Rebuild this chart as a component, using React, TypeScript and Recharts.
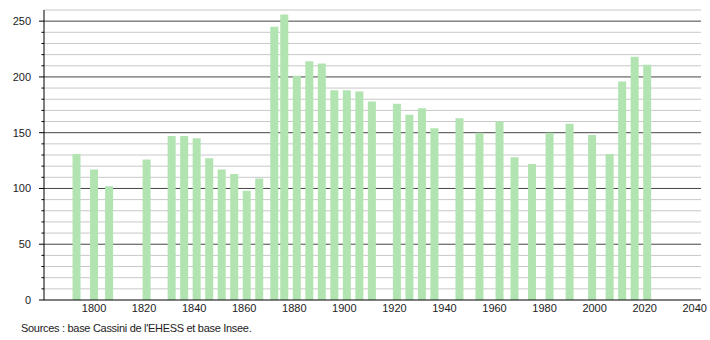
import React from 'react';
import { BarChart, Bar, XAxis, YAxis, CartesianGrid } from 'recharts';

const years = [1793, 1800, 1806, 1821, 1831, 1836, 1841, 1846, 1851, 1856, 1861, 1866, 1872, 1876, 1881, 1886, 1891, 1896, 1901, 1906, 1911, 1921, 1926, 1931, 1936, 1946, 1954, 1962, 1968, 1975, 1982, 1990, 1999, 2006, 2011, 2016, 2021];
const population = [131, 117, 102, 126, 147, 147, 145, 127, 117, 113, 98, 109, 245, 256, 201, 214, 212, 188, 188, 187, 178, 176, 166, 172, 154, 163, 150, 160, 128, 122, 150, 158, 148, 131, 196, 218, 211];
const xTicks = [1800, 1820, 1840, 1860, 1880, 1900, 1920, 1940, 1960, 1980, 2000, 2020, 2040];
const yTicks = [0, 10, 20, 30, 40, 50, 60, 70, 80, 90, 100, 110, 120, 130, 140, 150, 160, 170, 180, 190, 200, 210, 220, 230, 240, 250];
const yMajor = [50, 100, 150, 200, 250];
const yMinorGrid = [10, 20, 30, 40, 60, 70, 80, 90, 110, 120, 130, 140, 160, 170, 180, 190, 210, 220, 230, 240, 260];
const sourceText = "Sources : base Cassini de l'EHESS et base Insee.";

const data = years.map((y, i) => ({ year: y, pop: population[i] }));

const FONT = '"Liberation Sans", Arial, sans-serif';

const YTick = (props: any) => {
  const { x, y, payload } = props;
  const v = payload.value;
  const major = v % 50 === 0;
  return (
    <g>
      <line x1={x - (major ? 5 : 2.5)} x2={x} y1={y} y2={y} stroke="#000" strokeWidth={1} />
      {major && (
        <text x={x - 13} y={y} dy="0.355em" textAnchor="end" fontSize={11} fontFamily={FONT} fill="#222">
          {v}
        </text>
      )}
    </g>
  );
};

export default function App() {
  return (
    <div style={{ position: 'absolute', left: 0, top: 0, width: 710, height: 340, background: '#fff' }}>
      <BarChart width={710} height={340} data={data} margin={{ top: 10, right: 9, bottom: 20, left: 0 }}>
        <CartesianGrid vertical={false} horizontalValues={yMinorGrid} stroke="#c8c8c8" strokeWidth={1} />
        <CartesianGrid vertical={false} horizontalValues={yMajor} stroke="#444" strokeWidth={1} />
        <XAxis
          dataKey="year"
          type="number"
          domain={[1780, 2042.5]}
          ticks={xTicks}
          allowDataOverflow
          height={20}
          tickLine={false}
          tickSize={0}
          tickMargin={4}
          axisLine={{ stroke: '#000' }}
          tick={{ fontSize: 11, fontFamily: FONT, fill: '#222' }}
        />
        <YAxis
          type="number"
          domain={[0, 260]}
          ticks={yTicks}
          width={44}
          tickLine={false}
          tickSize={0}
          tickMargin={0}
          interval={0}
          axisLine={{ stroke: '#000' }}
          tick={<YTick />}
        />
        <Bar dataKey="pop" fill="#b1e4b1" barSize={8} isAnimationActive={false} />
      </BarChart>
      <div style={{ position: 'absolute', left: 21, top: 322, fontSize: 11, letterSpacing: '-0.3px', lineHeight: '13px', fontFamily: FONT, color: '#222', whiteSpace: 'nowrap' }}>
        {sourceText}
      </div>
    </div>
  );
}
